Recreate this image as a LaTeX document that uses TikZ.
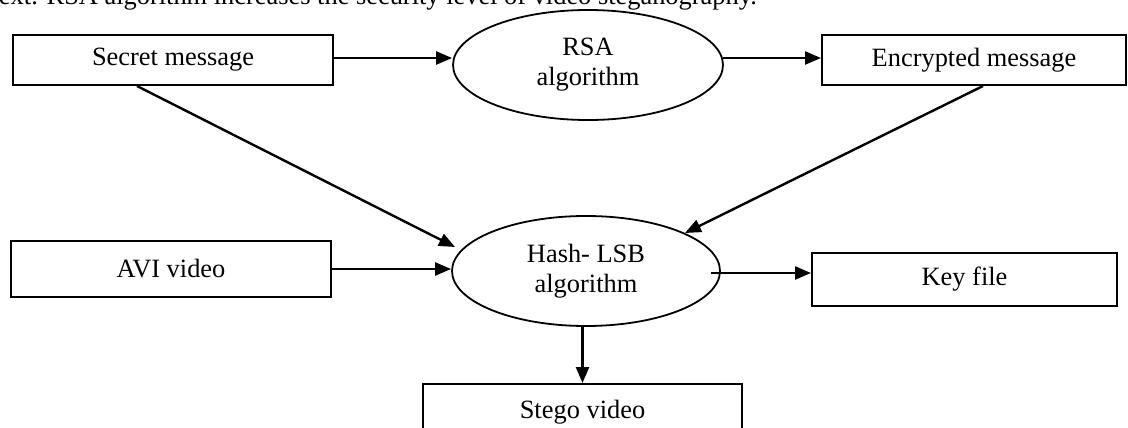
\documentclass[tikz,border=0pt]{standalone}
\usepackage{fontspec}
\setmainfont{Liberation Serif}
\usetikzlibrary{shapes.geometric,arrows.meta}
\begin{document}
\begin{tikzpicture}[x=1pt,y=-1pt,
  every node/.style={font=\fontsize{26.4}{30}\selectfont, inner sep=0pt},
  boxnode/.style={draw, line width=2pt, rectangle},
  ellnode/.style={draw, line width=1.8pt, ellipse, align=center},
  conn/.style={line width=2.4pt, -{Triangle[length=16pt,width=13pt]}}]
\useasboundingbox (0,0) rectangle (1128,428);
\clip (0,0) rectangle (1128,428);
\node[anchor=base east] (cap) at (757,5) {text. RSA algorithm increases the security level of video steganography.};
\node[boxnode, minimum width=320, minimum height=50] (sm) at (173,60) {Secret message};
\node[ellnode, minimum width=270, minimum height=110] (rsa) at (588,65) {RSA\\algorithm};
\node[boxnode, minimum width=304, minimum height=50] (enc) at (974,60) {Encrypted message};
\node[boxnode, minimum width=320, minimum height=56] (avi) at (171,269) {AVI video};
\node[ellnode, minimum width=268, minimum height=110] (hash) at (586,271) {Hash- LSB\\algorithm};
\node[boxnode, minimum width=305, minimum height=53] (key) at (964.5,279.5) {Key file};
\node[boxnode, minimum width=319, minimum height=56] (stego) at (582.5,412) {Stego video};
\coordinate (s1) at ([shift={(0,-2)}]sm.east);
\coordinate (r1) at ([shift={(-1,-7)}]rsa.east);
\coordinate (k1) at ([shift={(-10,2)}]hash.east);
\draw[conn] (s1) -- (s1 -| rsa.west);
\draw[conn] (r1) -- (r1 -| enc.west);
\draw[conn] ([xshift=-36]sm.south) -- ([shift={(-131,-24)}]hash.center);
\draw[conn] ([xshift=9]enc.south) -- ([shift={(99,-38)}]hash.center);
\draw[conn] (avi.east) -- (avi.east -| hash.west);
\draw[conn] (k1) -- (k1 -| key.west);
\draw[conn] (stego.north |- hash.south) -- (stego.north);
\end{tikzpicture}
\end{document}
